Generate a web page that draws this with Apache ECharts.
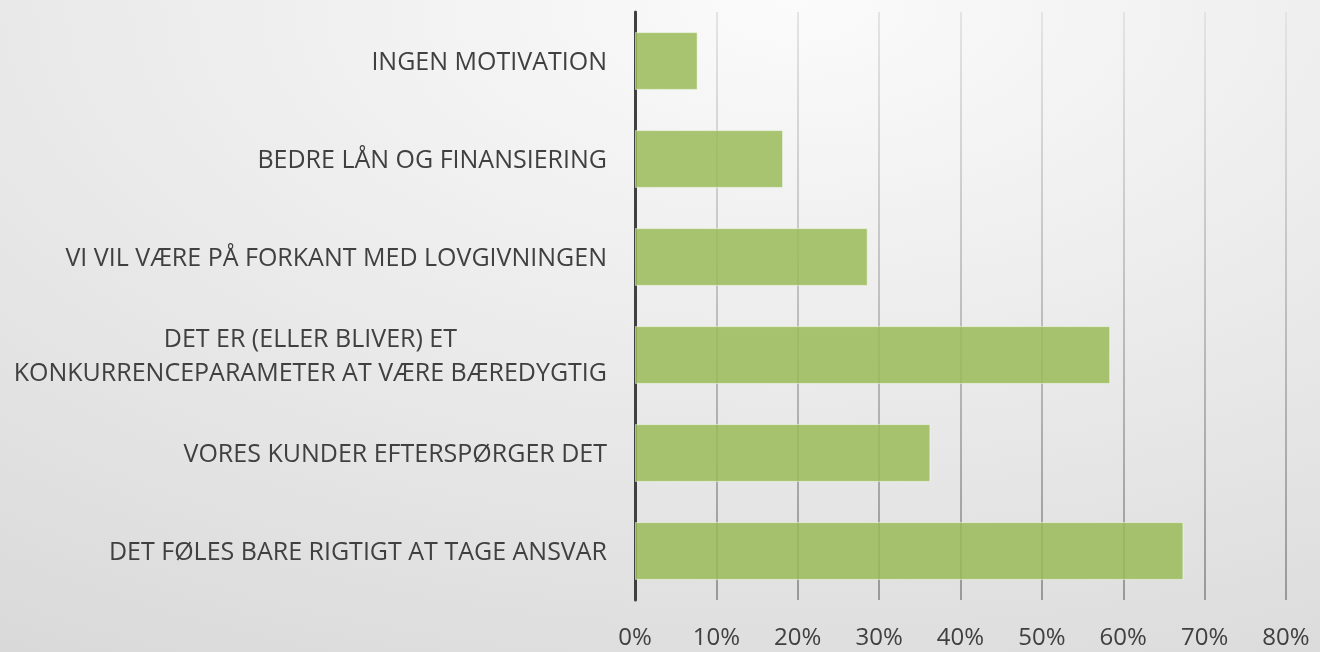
<!DOCTYPE html>
<html>
<head>
<meta charset="utf-8">
<script src="https://cdn.jsdelivr.net/npm/echarts@6/dist/echarts.min.js"></script>
<style>
  html, body { margin: 0; padding: 0; }
  body { background: radial-gradient(ellipse 120% 130% at 60% 0%, #fbfbfb 0%, #d6d6d6 100%); }
  #main { width: 1320px; height: 652px; }
</style>
</head>
<body>
<div id="main"></div>
<script>
// kategorier (oppefra og ned) og andel i procent
var categories = [
  'INGEN MOTIVATION',
  'BEDRE LÅN OG FINANSIERING',
  'VI VIL VÆRE PÅ FORKANT MED LOVGIVNINGEN',
  'DET ER (ELLER BLIVER) ET\nKONKURRENCEPARAMETER AT VÆRE BÆREDYGTIG',
  'VORES KUNDER EFTERSPØRGER DET',
  'DET FØLES BARE RIGTIGT AT TAGE ANSVAR'
];
var values = [7.7, 18.2, 28.6, 58.4, 36.3, 67.4];
var xTicks = [0, 10, 20, 30, 40, 50, 60, 70, 80];

var chart = echarts.init(document.getElementById('main'));

var option = {
  backgroundColor: 'transparent',
  textStyle: { fontFamily: '"Open Sans", sans-serif' },
  grid: { left: 635, right: 34, top: 12, bottom: 52, containLabel: false },
  xAxis: {
    type: 'value',
    min: xTicks[0],
    max: xTicks[xTicks.length - 1],
    interval: 10,
    axisLine: { show: false },
    axisTick: { show: false },
    axisLabel: {
      margin: 26,
      fontSize: 24,
      color: '#404040',
      formatter: '{value}%'
    },
    splitLine: {
      show: true,
      lineStyle: {
        width: 2,
        color: {
          type: 'linear', x: 0, y: 12, x2: 0, y2: 600, global: true,
          colorStops: [
            { offset: 0, color: '#e4e4e4' },
            { offset: 1, color: '#999999' }
          ]
        }
      }
    }
  },
  yAxis: {
    type: 'category',
    inverse: true,
    data: categories,
    axisLine: { show: true, lineStyle: { color: '#404040', width: 3 } },
    axisTick: { show: false },
    axisLabel: {
      margin: 28,
      fontSize: 25,
      color: '#404040',
      lineHeight: 34,
      formatter: function (v) {
        return v.split('\n').map(function (s) { return '{c|' + s + '}'; }).join('\n');
      },
      rich: {
        c: { align: 'center', fontSize: 25, lineHeight: 34, color: '#404040', padding: [4, 0, 0, 0] }
      }
    }
  },
  series: [{
    type: 'bar',
    data: values,
    barWidth: '59%',
    itemStyle: {
      color: 'rgba(155,187,89,0.85)',
      borderColor: 'rgba(255,255,255,0.5)',
      borderWidth: 1
    }
  }]
};

chart.setOption(option);
</script>
</body>
</html>
